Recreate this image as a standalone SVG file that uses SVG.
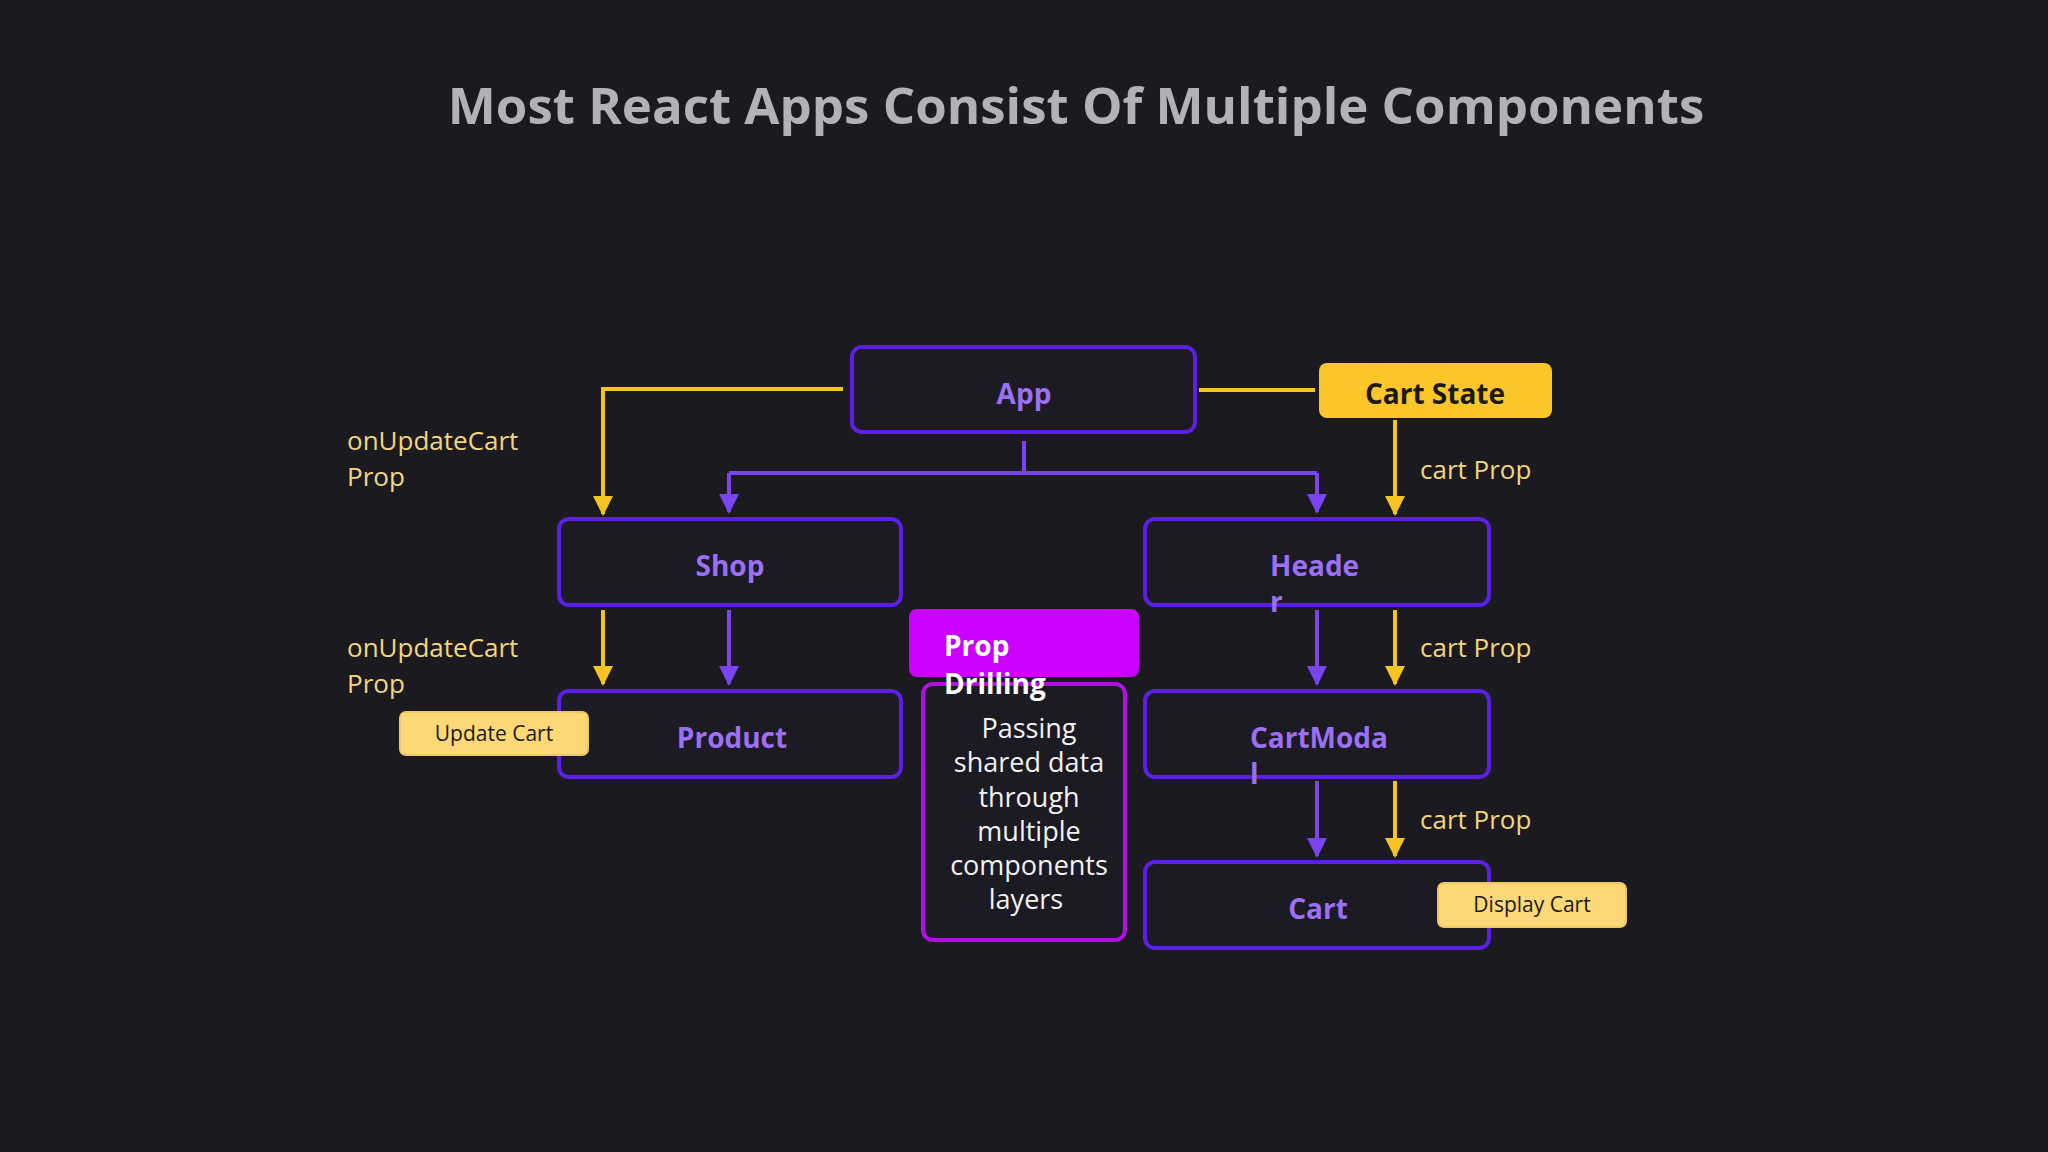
<svg xmlns="http://www.w3.org/2000/svg" width="2048" height="1152" viewBox="0 0 2048 1152">
<defs>
<marker id="ay" viewBox="0 0 10 10" refX="9" refY="5" markerWidth="20" markerHeight="22" orient="auto" markerUnits="userSpaceOnUse"><path d="M0,0 L10,5 L0,10 Z" fill="#f7c321"/></marker>
<marker id="ap" viewBox="0 0 10 10" refX="9" refY="5" markerWidth="20" markerHeight="22" orient="auto" markerUnits="userSpaceOnUse"><path d="M0,0 L10,5 L0,10 Z" fill="#7a45f0"/></marker>
<style>
.node{fill:#1c1a22;stroke:#5b1fe6;stroke-width:4}
.nt{font-family:"Open Sans","Noto Sans",sans-serif;font-weight:700;font-size:28px;fill:#9b70f5}
.y{stroke:#f7c321;stroke-width:4;fill:none}
.p{stroke:#7a45f0;stroke-width:4;fill:none}
.lbl{font-family:"Open Sans","Noto Sans",sans-serif;font-size:26px;fill:#f3d67c}
.note{fill:#fcd877;stroke:#f0c860;stroke-width:2}
.nn{font-family:"Open Sans","Noto Sans",sans-serif;font-size:21px;fill:#1a1a1a}
</style>
</defs>
<rect width="2048" height="1152" fill="#1b1a21"/>
<text x="1076" y="124" text-anchor="middle" font-family="'Open Sans','Noto Sans',sans-serif" font-weight="700" font-size="51" fill="#b3b1b8">Most React Apps Consist Of Multiple Components</text>
<g id="connectors">
<path class="y" d="M843,389 H603 V514" marker-end="url(#ay)"/>
<path class="y" d="M1199,390 H1315"/>
<path class="p" d="M1024,441 V473"/>
<path class="p" d="M729,473 H1317"/>
<path class="p" d="M729,473 V512" marker-end="url(#ap)"/>
<path class="p" d="M1317,473 V512" marker-end="url(#ap)"/>
<path class="y" d="M1395,420 V514" marker-end="url(#ay)"/>
<path class="y" d="M603,610 V684" marker-end="url(#ay)"/>
<path class="p" d="M729,610 V684" marker-end="url(#ap)"/>
<path class="p" d="M1317,610 V684" marker-end="url(#ap)"/>
<path class="y" d="M1395,610 V684" marker-end="url(#ay)"/>
<path class="p" d="M1317,781 V856" marker-end="url(#ap)"/>
<path class="y" d="M1395,781 V856" marker-end="url(#ay)"/>
</g>
<g id="labels">
<text class="lbl" x="347" y="450">onUpdateCart</text>
<text class="lbl" x="347" y="486">Prop</text>
<text class="lbl" x="347" y="657">onUpdateCart</text>
<text class="lbl" x="347" y="693">Prop</text>
<text class="lbl" x="1420" y="479">cart Prop</text>
<text class="lbl" x="1420" y="657">cart Prop</text>
<text class="lbl" x="1420" y="829">cart Prop</text>
</g>
<g id="app"><rect class="node" x="852" y="347" width="343" height="85" rx="10"/><text class="nt" x="1024" y="404" text-anchor="middle">App</text></g>
<g id="cartstate"><rect x="1319" y="363" width="233" height="55" rx="8" fill="#fcc62a"/><text x="1435" y="404" text-anchor="middle" font-family="'Open Sans','Noto Sans',sans-serif" font-weight="700" font-size="28" fill="#1a1a1a">Cart State</text></g>
<g id="shop"><rect class="node" x="559" y="519" width="342" height="86" rx="10"/><text class="nt" x="730" y="576" text-anchor="middle">Shop</text></g>
<g id="header"><rect class="node" x="1145" y="519" width="344" height="86" rx="10"/><text class="nt" x="1270" y="576">Heade</text><text class="nt" x="1270" y="612">r</text></g>
<g id="product"><rect class="node" x="559" y="691" width="342" height="86" rx="10"/><text class="nt" x="732" y="748" text-anchor="middle">Product</text></g>
<g id="cartmodal"><rect class="node" x="1145" y="691" width="344" height="86" rx="10"/><text class="nt" x="1250" y="748">CartModa</text><text class="nt" x="1250" y="784">l</text></g>
<g id="cart"><rect class="node" x="1145" y="862" width="344" height="86" rx="10"/><text class="nt" x="1318" y="919" text-anchor="middle">Cart</text></g>
<g id="propdrilling">
<rect x="923" y="684" width="202" height="256" rx="10" fill="#1c1a22" stroke="#b30ee6" stroke-width="4"/>
<rect x="909" y="609" width="230" height="68" rx="8" fill="#cc00ff"/>
<text x="944" y="656" font-family="'Open Sans','Noto Sans',sans-serif" font-weight="700" font-size="28" fill="#ffffff">Prop</text>
<text x="944" y="694" font-family="'Open Sans','Noto Sans',sans-serif" font-weight="700" font-size="28" fill="#ffffff">Drilling</text>
<g font-family="'Open Sans','Noto Sans',sans-serif" font-size="27" fill="#f2f2f2" text-anchor="middle">
<text x="1029" y="738">Passing</text><text x="1029" y="772">shared data</text><text x="1029" y="807">through</text><text x="1029" y="841">multiple</text><text x="1029" y="875">components</text><text x="1026" y="909">layers</text>
</g>
</g>
<g id="updatecart"><rect class="note" x="400" y="712" width="188" height="43" rx="6"/><text class="nn" x="494" y="741" text-anchor="middle">Update Cart</text></g>
<g id="displaycart"><rect class="note" x="1438" y="883" width="188" height="44" rx="6"/><text class="nn" x="1532" y="912" text-anchor="middle">Display Cart</text></g>
</svg>
